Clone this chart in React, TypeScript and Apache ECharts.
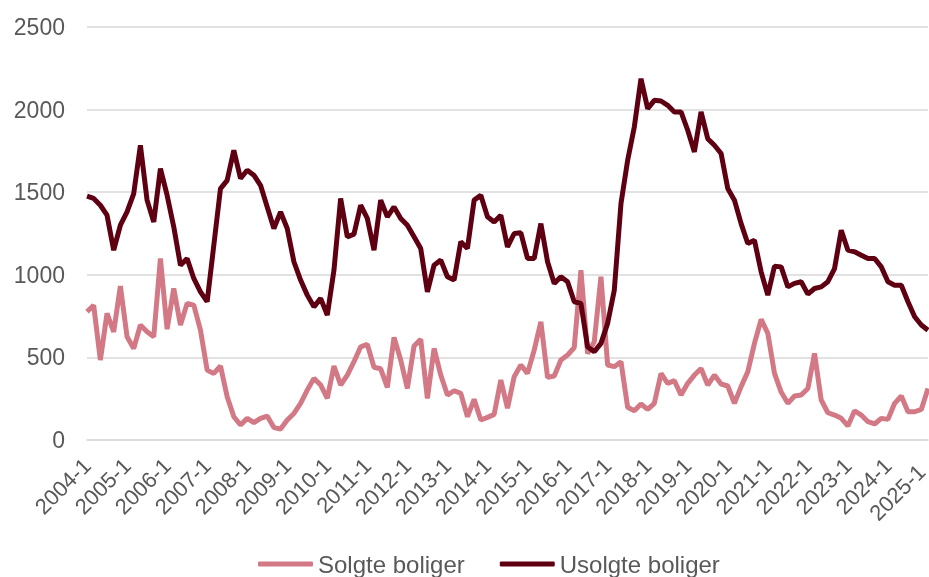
import React, { useEffect, useRef } from "react";
import * as echarts from "echarts";

const years: number[] = [];
for (let y = 2004; y <= 2025; y++) years.push(y);
const categories: string[] = [];
years.forEach((y) => {
  for (let p = 1; p <= 6; p++) {
    if (y === 2025 && p > 1) break;
    categories.push(`${y}-${p}`);
  }
});

const solgte = [
  776, 816, 484, 766, 655, 931, 625, 554, 696, 655, 625, 1099, 671, 917, 696, 827, 816, 665, 423, 403, 448,
  262, 141, 91, 131, 105, 131, 145, 75, 67, 121, 161, 222, 302, 373, 333, 252, 448, 333, 393, 474, 564,
  579, 440, 431, 319, 621, 484, 312, 569, 609, 252, 554, 393, 272, 298, 282, 141, 246, 121, 137, 155, 363,
  192, 383, 454, 403, 544, 716, 379, 387, 484, 514, 560, 1028, 524, 595, 988, 454, 444, 474, 198, 177, 218,
  185, 222, 403, 343, 359, 272, 343, 393, 433, 333, 393, 339, 327, 222, 323, 413, 585, 730, 645, 403, 290,
  222, 266, 272, 312, 524, 242, 165, 151, 131, 85, 177, 151, 111, 97, 131, 125, 222, 266, 171, 171, 185, 312,
];

const usolgte = [
  1476, 1462, 1421, 1361, 1149, 1300, 1381, 1492, 1784, 1452, 1320, 1643, 1482, 1290, 1058, 1099, 978, 897, 837, 1179, 1522,
  1572, 1754, 1583, 1633, 1603, 1542, 1411, 1280, 1381, 1280, 1079, 968, 877, 806, 857, 756, 1028, 1462, 1230, 1246, 1421,
  1341, 1149, 1452, 1351, 1411, 1341, 1300, 1230, 1159, 897, 1058, 1089, 988, 968, 1200, 1159, 1452, 1482, 1351, 1320, 1361,
  1169, 1250, 1254, 1099, 1099, 1310, 1079, 948, 988, 958, 837, 827, 564, 534, 585, 706, 907, 1431, 1693, 1895, 2187,
  2006, 2056, 2052, 2026, 1986, 1986, 1875, 1744, 1986, 1824, 1784, 1734, 1522, 1452, 1310, 1189, 1209, 1018, 877, 1052, 1048,
  927, 948, 958, 883, 917, 927, 958, 1038, 1270, 1149, 1139, 1119, 1099, 1099, 1048, 958, 937, 937, 837, 746, 696, 665,
];

const seriesNames = ["Solgte boliger", "Usolgte boliger"];
const FONT = "'Liberation Sans', Arial, sans-serif";
const lastCategory = categories[categories.length - 1];

export default function App() {
  const ref = useRef<HTMLDivElement>(null);
  useEffect(() => {
    if (!ref.current) return;
    const chart = echarts.init(ref.current, undefined, { renderer: "svg" });
    chart.setOption({
      animation: false,
      textStyle: { fontFamily: FONT },
      grid: {
        left: 87,
        right: 1,
        top: 27,
        bottom: 137,
        containLabel: false,
        outerBoundsMode: "none",
      },
      legend: {
        top: 552,
        left: 258,
        padding: 0,
        icon: "roundRect",
        itemWidth: 55,
        itemHeight: 5,
        itemGap: 35,
        textStyle: { fontSize: 24, color: "#595959", fontFamily: FONT },
        data: seriesNames,
      },
      xAxis: {
        type: "category",
        data: categories,
        boundaryGap: false,
        axisLine: { lineStyle: { color: "#d9d9d9", width: 1.5 } },
        axisTick: { show: false },
        axisLabel: {
          interval: 5,
          rotate: 45,
          fontSize: 22,
          color: "#595959",
          margin: 22,
          fontFamily: FONT,
          formatter: (v: string) => (v === lastCategory ? `{last|${v}}` : v),
          rich: {
            last: {
              fontSize: 22,
              color: "#595959",
              fontFamily: FONT,
              padding: [0, 9, 0, 0],
            },
          },
        },
      },
      yAxis: {
        type: "value",
        min: 0,
        max: 2500,
        interval: 500,
        axisLine: { show: false },
        axisTick: { show: false },
        splitLine: { lineStyle: { color: "#d9d9d9", width: 1.5 } },
        axisLabel: {
          fontSize: 23,
          color: "#595959",
          margin: 22,
          fontFamily: FONT,
          formatter: (v: number) => String(v),
        },
      },
      series: [
        {
          name: seriesNames[0],
          type: "line",
          data: solgte,
          showSymbol: false,
          lineStyle: { color: "#d27985", width: 5 },
          itemStyle: { color: "#d27985" },
        },
        {
          name: seriesNames[1],
          type: "line",
          data: usolgte,
          showSymbol: false,
          lineStyle: { color: "#5e0011", width: 5 },
          itemStyle: { color: "#5e0011" },
        },
      ],
    });
    return () => chart.dispose();
  }, []);
  return (
    <div
      ref={ref}
      style={{ position: "fixed", left: 0, top: 0, width: 929, height: 577 }}
    />
  );
}
